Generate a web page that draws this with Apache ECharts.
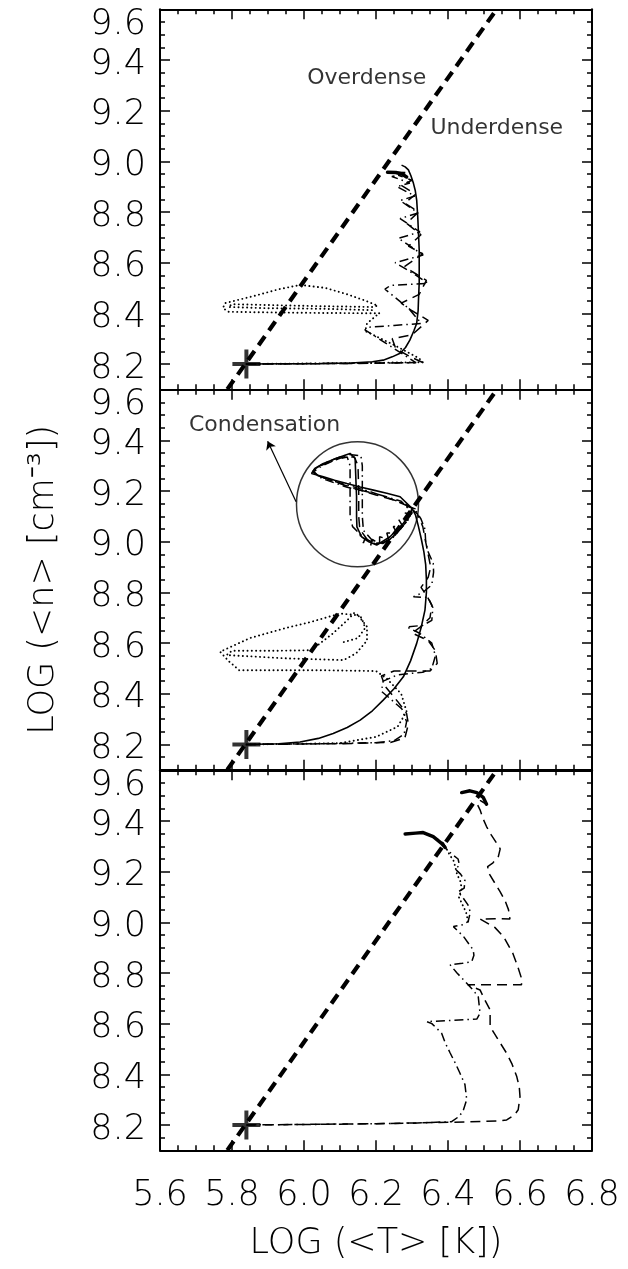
<!DOCTYPE html>
<html><head><meta charset="utf-8">
<script src="https://cdn.jsdelivr.net/npm/echarts@6/dist/echarts.min.js"></script>
<style>html,body{margin:0;padding:0;background:#fff}#c{width:628px;height:1269px}</style>
</head><body><div id="c"></div>
<script>
// ---------- axis ticks / labels ----------
const X_TICKS = [5.6, 5.8, 6.0, 6.2, 6.4, 6.6, 6.8];
const Y_TICKS = [8.2, 8.4, 8.6, 8.8, 9.0, 9.2, 9.4, 9.6];
const X_RANGE = [5.6, 6.8];
const Y_RANGE = [8.1, 9.6];
const X_TITLE = 'LOG (<T> [K])';
const Y_TITLE = 'LOG (<n> [cm⁻³])';

// ---------- common marks ----------
const START = [5.84, 8.20];
const RTV_LINE = [[5.787, 8.1], [6.535, 9.6]];

// ---------- panel 1 ----------
const P1_SOLID = [[5.84,8.200],[5.95,8.201],[6.05,8.202],[6.13,8.204],[6.19,8.209],[6.22,8.215],[6.245,8.228],[6.267,8.242],[6.282,8.265],[6.294,8.294],[6.305,8.33],[6.313,8.36],[6.317,8.41],[6.318,8.452],[6.320,8.52],[6.320,8.584],[6.320,8.65],[6.318,8.716],[6.316,8.78],[6.313,8.847],[6.309,8.885],[6.304,8.913],[6.297,8.943],[6.29,8.966],[6.281,8.978],[6.271,8.985]];
const P1_DASHDOT = [[5.84,8.200],[6.10,8.202],[6.31,8.205],[6.30,8.215],[6.24,8.27],[6.169,8.335],[6.18,8.345],[6.25,8.352],[6.326,8.360],[6.29,8.42],[6.225,8.495],[6.24,8.51],[6.345,8.518],[6.30,8.56],[6.253,8.600],[6.331,8.630],[6.295,8.665],[6.262,8.696],[6.322,8.721],[6.267,8.774],[6.317,8.796],[6.267,8.845],[6.308,8.863],[6.258,8.900],[6.294,8.914],[6.244,8.940],[6.281,8.950],[6.233,8.955]];
const P1_DASHED = [[5.84,8.200],[6.15,8.202],[6.33,8.206],[6.30,8.225],[6.255,8.26],[6.245,8.30],[6.30,8.315],[6.345,8.372],[6.30,8.41],[6.27,8.44],[6.32,8.475],[6.34,8.53],[6.30,8.565],[6.28,8.585],[6.33,8.635],[6.29,8.665],[6.325,8.71],[6.285,8.755],[6.318,8.80],[6.28,8.835],[6.31,8.87],[6.27,8.905],[6.30,8.925],[6.262,8.945],[6.287,8.955],[6.24,8.958]];
const P1_DOTTED = [[5.84,8.200],[6.10,8.203],[6.33,8.207],[6.32,8.222],[6.25,8.275],[6.17,8.33],[6.175,8.36],[6.20,8.39],[6.21,8.40],[6.10,8.401],[6.00,8.402],[5.88,8.404],[5.79,8.406],[5.775,8.42],[5.78,8.44],[5.86,8.468],[5.93,8.495],[5.99,8.512],[6.06,8.50],[6.12,8.475],[6.17,8.45],[6.205,8.43],[6.19,8.425],[6.05,8.428],[5.92,8.432],[5.80,8.436],[5.79,8.425],[5.90,8.42],[6.05,8.418],[6.20,8.412]];
const P1_END = [[6.232,8.957],[6.255,8.956],[6.272,8.950],[6.285,8.938]];

// ---------- panel 2 ----------
const P2_SOLID = [[5.84,8.200],[5.93,8.203],[5.989,8.210],[6.04,8.224],[6.081,8.243],[6.12,8.267],[6.156,8.296],[6.19,8.333],[6.220,8.375],[6.25,8.42],[6.276,8.467],[6.296,8.53],[6.313,8.599],[6.326,8.665],[6.336,8.730],[6.34,8.80],[6.34,8.85],[6.338,8.91],[6.333,8.96],[6.326,9.01],[6.318,9.06],[6.31,9.105],[6.30,9.132],[6.267,9.178],[6.230,9.192],[6.193,9.204],[6.156,9.216],[6.119,9.230],[6.085,9.243],[6.054,9.257],[6.021,9.270],[6.030,9.290],[6.054,9.309],[6.080,9.324],[6.100,9.335],[6.128,9.349],[6.142,9.329],[6.144,9.25],[6.146,9.178],[6.146,9.10],[6.147,9.059],[6.160,9.020],[6.180,9.000],[6.202,8.987],[6.239,9.020],[6.276,9.073],[6.295,9.11],[6.30,9.132]];
const P2_DASHDOT = [[5.84,8.200],[6.05,8.203],[6.20,8.207],[6.25,8.215],[6.278,8.24],[6.285,8.29],[6.272,8.34],[6.24,8.38],[6.215,8.41],[6.22,8.45],[6.26,8.475],[6.33,8.485],[6.355,8.50],[6.365,8.55],[6.355,8.60],[6.32,8.64],[6.285,8.664],[6.33,8.67],[6.355,8.69],[6.358,8.74],[6.345,8.78],[6.304,8.783],[6.33,8.80],[6.355,8.83],[6.36,8.88],[6.359,8.915],[6.345,8.96],[6.338,9.00],[6.336,9.05],[6.325,9.09],[6.31,9.125],[6.28,9.15],[6.24,9.17],[6.19,9.195],[6.13,9.22],[6.07,9.245],[6.03,9.265],[6.028,9.285],[6.055,9.31],[6.09,9.33],[6.125,9.345],[6.158,9.34],[6.162,9.30],[6.162,9.20],[6.162,9.10],[6.165,9.045],[6.19,9.005],[6.215,8.99],[6.245,9.015],[6.28,9.07],[6.30,9.115],[6.27,9.16],[6.20,9.19],[6.12,9.215],[6.05,9.25],[6.025,9.275],[6.05,9.30],[6.09,9.325],[6.12,9.335],[6.128,9.30],[6.128,9.20],[6.128,9.10],[6.135,9.06],[6.17,9.01],[6.21,8.99],[6.25,9.02],[6.285,9.08],[6.30,9.125]];
const P2_DASHED = [[5.84,8.200],[6.10,8.203],[6.24,8.208],[6.28,8.225],[6.29,8.28],[6.285,8.322],[6.26,8.37],[6.225,8.43],[6.215,8.47],[6.25,8.49],[6.35,8.49],[6.37,8.52],[6.365,8.57],[6.345,8.61],[6.30,8.64],[6.32,8.66],[6.35,8.70],[6.355,8.75],[6.34,8.79],[6.325,8.82],[6.345,8.86],[6.352,8.90],[6.345,8.95],[6.338,9.00],[6.33,9.06],[6.315,9.11],[6.29,9.14],[6.25,9.165],[6.20,9.185],[6.14,9.21],[6.08,9.24],[6.04,9.26],[6.025,9.28],[6.045,9.30],[6.08,9.32],[6.11,9.335],[6.14,9.335],[6.15,9.30],[6.152,9.20],[6.152,9.10],[6.155,9.05],[6.175,9.01],[6.20,8.99],[6.235,9.005],[6.265,9.045],[6.29,9.09],[6.30,9.12]];
const P2_DOTTED = [[5.84,8.200],[6.10,8.205],[6.20,8.23],[6.26,8.27],[6.285,8.33],[6.27,8.40],[6.23,8.46],[6.20,8.49],[6.05,8.493],[5.90,8.493],[5.82,8.493],[5.79,8.53],[5.767,8.566],[5.85,8.62],[5.95,8.66],[6.02,8.684],[6.10,8.717],[6.15,8.71],[6.175,8.665],[6.175,8.61],[6.145,8.56],[6.11,8.533],[5.95,8.54],[5.785,8.553],[5.80,8.57],[5.92,8.57],[6.02,8.572],[6.08,8.638],[6.12,8.69],[6.14,8.72],[6.16,8.70],[6.17,8.66],[6.15,8.62],[6.10,8.60]];
const P2_HATCH = [[6.31,9.13],[6.285,9.14],[6.30,9.11],[6.275,9.115],[6.29,9.085],[6.262,9.09],[6.275,9.06],[6.248,9.06],[6.258,9.035],[6.23,9.035],[6.235,9.01],[6.21,9.02],[6.21,8.99],[6.19,9.01],[6.185,8.985],[6.17,9.015],[6.165,8.995],[6.155,9.03]];
const CIRCLE_CENTER = [6.1486, 9.148];
const ARROW = [[5.978, 9.158], [5.899, 9.397]];

// ---------- panel 3 ----------
const P3_DASHDOT = [[5.84,8.200],[6.10,8.203],[6.30,8.207],[6.41,8.213],[6.432,8.235],[6.443,8.26],[6.452,8.30],[6.447,8.36],[6.433,8.405],[6.42,8.445],[6.406,8.484],[6.392,8.525],[6.382,8.563],[6.355,8.60],[6.341,8.608],[6.40,8.612],[6.48,8.618],[6.489,8.641],[6.486,8.68],[6.484,8.707],[6.465,8.74],[6.443,8.773],[6.425,8.80],[6.406,8.832],[6.44,8.838],[6.466,8.845],[6.472,8.87],[6.47,8.891],[6.443,8.944],[6.415,8.983],[6.44,8.99],[6.456,9.003],[6.462,9.04],[6.455,9.07],[6.44,9.10],[6.428,9.12],[6.445,9.135],[6.447,9.165],[6.435,9.19],[6.42,9.21],[6.432,9.225],[6.428,9.25],[6.41,9.27],[6.395,9.29],[6.387,9.313],[6.36,9.338],[6.33,9.352],[6.30,9.352],[6.285,9.349]];
const P3_DASHED = [[5.84,8.200],[6.20,8.205],[6.45,8.212],[6.54,8.216],[6.563,8.220],[6.585,8.24],[6.595,8.26],[6.60,8.312],[6.598,8.35],[6.591,8.391],[6.578,8.44],[6.563,8.483],[6.54,8.535],[6.517,8.588],[6.517,8.62],[6.517,8.654],[6.50,8.70],[6.489,8.733],[6.455,8.753],[6.52,8.753],[6.604,8.753],[6.605,8.775],[6.595,8.82],[6.58,8.878],[6.554,8.944],[6.53,8.98],[6.489,9.013],[6.53,9.014],[6.572,9.013],[6.568,9.05],[6.558,9.087],[6.545,9.12],[6.53,9.155],[6.515,9.19],[6.51,9.22],[6.525,9.235],[6.54,9.26],[6.545,9.29],[6.535,9.313],[6.52,9.345],[6.507,9.378],[6.497,9.41],[6.489,9.444],[6.48,9.47],[6.49,9.48],[6.507,9.466]];
const P3_DOTTED = [[6.456,9.003],[6.45,9.04],[6.44,9.07],[6.43,9.10],[6.438,9.13],[6.435,9.16],[6.425,9.19],[6.42,9.22],[6.415,9.245],[6.405,9.265],[6.398,9.285],[6.392,9.296]];
const P3_DASHDOT_END = [[6.281,9.349],[6.31,9.352],[6.331,9.354],[6.359,9.338],[6.382,9.312],[6.392,9.296]];
const P3_DASHED_END = [[6.438,9.512],[6.461,9.519],[6.48,9.512],[6.498,9.493],[6.507,9.466]];

// ---------- annotations ----------
const NOTES_P1 = [{name:'Overdense', value:[6.0075, 9.328]}, {name:'Underdense', value:[6.35, 9.130]}];
const NOTES_P2 = [{name:'Condensation', value:[5.679, 9.461]}];

// ---------- build ----------
const Y_MINOR = [];
for (let k = 163; k < 192; k++) {
  const v = Math.round(k * 5) / 100;
  if (!Y_TICKS.some(t => Math.abs(t - v) < 1e-6)) Y_MINOR.push(v);
}
const LABEL_FONT = {fontFamily: 'DejaVu Sans', fontWeight: 200, fontSize: 35, color: '#000'};
const BLACK = '#000';
const GRID_TOPS = [9.3, 389.8, 770.3];
const grids = GRID_TOPS.map(t => ({left: 160, width: 432, top: t, height: 380, containLabel: false, outerBoundsMode: 'none'}));

function xAx(i, pos, withLabels) {
  const a = {
    type: 'value', gridIndex: i, position: pos, min: X_RANGE[0], max: X_RANGE[1], interval: 0.2,
    axisLine: {show: true, onZero: false, lineStyle: {color: BLACK, width: 2}},
    axisTick: {show: true, inside: true, length: 10, lineStyle: {color: BLACK, width: 1.5}},
    minorTick: {show: true, splitNumber: 4, length: 5, lineStyle: {color: BLACK, width: 1.5}},
    splitLine: {show: false}, minorSplitLine: {show: false},
    axisLabel: withLabels ? Object.assign({show: true, margin: 28, formatter: v => v.toFixed(1)}, LABEL_FONT) : {show: false}
  };
  if (withLabels) {
    a.name = X_TITLE; a.nameLocation = 'middle'; a.nameGap = 76;
    a.nameTextStyle = Object.assign({}, LABEL_FONT);
  }
  return a;
}
function yAx(i, pos, withLabels) {
  const rich = {
    n: Object.assign({padding: [9, 0, 0, 0]}, LABEL_FONT),
    top: Object.assign({padding: [31, 0, 0, 0]}, LABEL_FONT)
  };
  const a = {
    type: 'value', gridIndex: i, position: pos, min: Y_RANGE[0], max: Y_RANGE[1],
    axisLine: {show: true, onZero: false, lineStyle: {color: BLACK, width: 2}},
    axisTick: {show: true, inside: true, length: 10, customValues: Y_TICKS, lineStyle: {color: BLACK, width: 1.5}},
    splitLine: {show: false},
    axisLabel: withLabels ? Object.assign({show: true, margin: 14, customValues: Y_TICKS, rich: rich,
      formatter: v => (Math.abs(v - Y_TICKS[Y_TICKS.length - 1]) < 1e-6 ? '{top|' : '{n|') + v.toFixed(1) + '}'}, LABEL_FONT) : {show: false}
  };
  if (withLabels && i === 1) {
    a.name = Y_TITLE; a.nameLocation = 'middle'; a.nameRotate = 90; a.nameGap = 99;
    a.nameTextStyle = Object.assign({}, LABEL_FONT);
  }
  return a;
}
function yMinor(i, pos) {
  return {
    type: 'value', gridIndex: i, position: pos, min: Y_RANGE[0], max: Y_RANGE[1],
    axisLine: {show: false},
    axisTick: {show: true, inside: true, length: 5, customValues: Y_MINOR, lineStyle: {color: BLACK, width: 1.5}},
    axisLabel: {show: false}, splitLine: {show: false}
  };
}

const xAxes = [0,1,2].map(i => xAx(i, 'bottom', i === 2)).concat([0,1,2].map(i => xAx(i, 'top', false)));
const yAxes = [0,1,2].map(i => yAx(i, 'left', true))
  .concat([0,1,2].map(i => yAx(i, 'right', false)))
  .concat([0,1,2].map(i => yMinor(i, 'left')))
  .concat([0,1,2].map(i => yMinor(i, 'right')));

const STYLES = {
  solid:   {type: 'solid', width: 1.6},
  dashed:  {type: [10, 6], width: 1.5},
  dashdot: {type: [9, 4, 1.5, 4], width: 1.5},
  dotted:  {type: [0.1, 4.2], width: 1.9, cap: 'round'},
  thick:   {type: 'solid', width: 3.5, cap: 'round'}
};
function line(i, data, style, z) {
  return {type: 'line', xAxisIndex: i, yAxisIndex: i, data: data, symbol: 'none', showSymbol: false,
    silent: true, animation: false, z: z || 3,
    lineStyle: Object.assign({color: BLACK}, STYLES[style])};
}
const CROSS_PATH = 'path://M0,12L28,12L28,16L0,16Z M12,0L16,0L16,28L12,28Z';

const series = [];
[0,1,2].forEach(i => {
  series.push({type: 'line', xAxisIndex: i, yAxisIndex: i, data: RTV_LINE, symbol: 'none', silent: true, animation: false, z: 5,
    lineStyle: {color: BLACK, width: 4.2, type: [11, 7]}});
  series.push({type: 'scatter', xAxisIndex: i, yAxisIndex: i, data: [START], symbol: CROSS_PATH, symbolSize: [28, 29],
    itemStyle: {color: BLACK}, silent: true, animation: false, z: 6});
});
// panel 1
series.push(line(0, P1_DOTTED, 'dotted'), line(0, P1_DASHED, 'dashed'), line(0, P1_DASHDOT, 'dashdot'), line(0, P1_SOLID, 'solid', 4), line(0, P1_END, 'thick', 4));
// panel 2
series.push(line(1, P2_DOTTED, 'dotted'), line(1, P2_DASHED, 'dashed'), line(1, P2_DASHDOT, 'dashdot'), line(1, P2_HATCH, 'dashed'), line(1, P2_SOLID, 'solid', 4));
series.push({type: 'scatter', xAxisIndex: 1, yAxisIndex: 1, data: [CIRCLE_CENTER], symbol: 'circle', symbolSize: [122, 125],
  itemStyle: {color: 'rgba(0,0,0,0)', borderColor: BLACK, borderWidth: 1.5}, silent: true, animation: false, z: 4});
series.push({type: 'lines', coordinateSystem: 'cartesian2d', xAxisIndex: 1, yAxisIndex: 1, data: [{coords: ARROW}],
  symbol: ['none', 'arrow'], symbolSize: 8, lineStyle: {color: BLACK, width: 1.2, opacity: 1}, silent: true, animation: false, z: 4});
// panel 3
series.push(line(2, P3_DOTTED, 'dotted'), line(2, P3_DASHED, 'dashed'), line(2, P3_DASHDOT, 'dashdot'), line(2, P3_DASHDOT_END, 'thick', 4), line(2, P3_DASHED_END, 'thick', 4));
// annotations
function notes(i, data) {
  return {type: 'scatter', xAxisIndex: i, yAxisIndex: i, data: data, symbolSize: 1, clip: false,
    itemStyle: {color: 'rgba(0,0,0,0)'}, silent: true, animation: false, z: 7,
    label: {show: true, position: 'right', distance: 0, formatter: '{b}', fontFamily: 'DejaVu Sans', fontSize: 22, color: BLACK}};
}
series.push(notes(0, NOTES_P1), notes(1, NOTES_P2));

const chart = echarts.init(document.getElementById('c'), null, {renderer: 'canvas'});
chart.setOption({
  backgroundColor: '#fff',
  animation: false,
  grid: grids,
  xAxis: xAxes,
  yAxis: yAxes,
  series: series
});
</script></body></html>
